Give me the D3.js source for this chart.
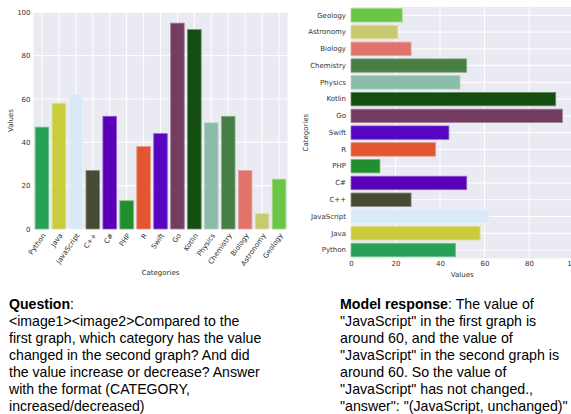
<!DOCTYPE html>
<html><head><meta charset="utf-8">
<script src="https://cdn.jsdelivr.net/npm/d3@7"></script>
<style>
body{margin:0;background:#fff;}
svg{display:block;}
</style></head>
<body>
<svg id="chart" width="571" height="414"></svg>
<script>
const categories = ["Python","Java","JavaScript","C++","C#","PHP","R","Swift","Go","Kotlin","Physics","Chemistry","Biology","Astronomy","Geology"];
const values1 = [47,58,62,27,52,13,38,44,95,92,49,52,27,7,23];
const values2 = [47,58,62,27,52,13,38,44,95,92,49,52,27,21,23];
const colors = ["#26a155","#c9cd3b","#d9eaf6","#474b36","#5a00b8","#238e2e","#e25531","#5606c1","#723d61","#134e10","#8bbcaa","#467e46","#e1736b","#c9ca70","#6bc645"];
const yTicks1 = [0,20,40,60,80,100];
const xTicks2 = [0,20,40,60,80,100];
const questionLines = [
  [["Question","bold"],[":",""]],
  [["<image1><image2>Compared to the",""]],
  [["first graph, which category has the value",""]],
  [["changed in the second graph? And did",""]],
  [["the value increase or decrease? Answer",""]],
  [["with the format (CATEGORY,",""]],
  [["increased/decreased)",""]]
];
const responseLines = [
  [["Model response","bold"],[": The value of",""]],
  [["\"JavaScript\" in the first graph is",""]],
  [["around 60, and the value of",""]],
  [["\"JavaScript\" in the second graph is",""]],
  [["around 60. So the value of",""]],
  [["\"JavaScript\" has not changed.,",""]],
  [["\"answer\": \"(JavaScript, unchanged)\"",""]]
];

const svg = d3.select("#chart");
const BG = "#eaeaf2", FONT = "DejaVu Sans", TXT = "#333";
const edge = c => d3.interpolateRgb(c, "#ffffff")(0.35);

// ---------- Chart 1 (vertical bars) ----------
{
  const L = 33.5, R = 287.5, T = 12.3, B = 229;
  const x = d3.scaleBand().domain(categories).range([L, R]).paddingInner(0.2).paddingOuter(0.1);
  const y = d3.scaleLinear().domain([0, 100]).range([B, T]);
  const g = svg.append("g");
  g.append("rect").attr("x", L).attr("y", T).attr("width", R - L).attr("height", B - T).attr("fill", BG);
  g.selectAll(".hg").data(yTicks1).join("line")
    .attr("x1", L).attr("x2", R).attr("y1", d => y(d)).attr("y2", d => y(d))
    .attr("stroke", "#fff").attr("stroke-width", 1);
  g.selectAll(".vg").data(categories).join("line")
    .attr("x1", d => x(d) + x.bandwidth() / 2).attr("x2", d => x(d) + x.bandwidth() / 2)
    .attr("y1", T).attr("y2", B).attr("stroke", "#fff").attr("stroke-width", 1);
  g.selectAll(".bar").data(categories).join("rect")
    .attr("x", d => x(d)).attr("width", x.bandwidth())
    .attr("y", (d, i) => y(values1[i])).attr("height", (d, i) => B - y(values1[i]))
    .attr("fill", (d, i) => colors[i]).attr("stroke", (d, i) => edge(colors[i])).attr("stroke-width", 0.8);
  const ya = g.append("g").attr("transform", `translate(${L},0)`)
    .call(d3.axisLeft(y).tickValues(yTicks1).tickSize(0).tickPadding(3));
  ya.select(".domain").remove();
  ya.selectAll("text").attr("font-family", FONT).attr("font-size", 7).attr("fill", TXT);
  const xa = g.append("g").attr("transform", `translate(0,${B})`)
    .call(d3.axisBottom(x).tickSize(0));
  xa.select(".domain").remove();
  xa.selectAll("text").attr("font-family", FONT).attr("font-size", 7).attr("fill", TXT)
    .attr("text-anchor", "end").attr("y", 0).attr("dy", "0.35em")
    .attr("transform", "translate(2,5) rotate(-55)");
  g.append("text").attr("x", (L + R) / 2).attr("y", 275).attr("text-anchor", "middle")
    .attr("font-family", FONT).attr("font-size", 7).attr("fill", TXT).text("Categories");
  g.append("text").attr("transform", `translate(13,${(T + B) / 2}) rotate(-90)`).attr("text-anchor", "middle")
    .attr("font-family", FONT).attr("font-size", 7).attr("fill", TXT).text("Values");
}

// ---------- Chart 2 (horizontal bars) ----------
{
  const L = 351, R = 573.5, T = 6.9, B = 258.4;
  const y = d3.scaleBand().domain(categories.slice().reverse()).range([T, B]).paddingInner(0.2).paddingOuter(0.1);
  const x = d3.scaleLinear().domain([0, 100]).range([L, R]);
  const g = svg.append("g");
  g.append("rect").attr("x", L).attr("y", T).attr("width", R - L).attr("height", B - T).attr("fill", BG);
  g.selectAll(".vg").data(xTicks2).join("line")
    .attr("x1", d => x(d)).attr("x2", d => x(d)).attr("y1", T).attr("y2", B)
    .attr("stroke", "#fff").attr("stroke-width", 1);
  g.selectAll(".hg").data(categories).join("line")
    .attr("x1", L).attr("x2", R).attr("y1", d => y(d) + y.bandwidth() / 2).attr("y2", d => y(d) + y.bandwidth() / 2)
    .attr("stroke", "#fff").attr("stroke-width", 1);
  g.selectAll(".bar").data(categories).join("rect")
    .attr("y", d => y(d)).attr("height", y.bandwidth())
    .attr("x", L).attr("width", (d, i) => x(values2[i]) - L)
    .attr("fill", (d, i) => colors[i]).attr("stroke", (d, i) => edge(colors[i])).attr("stroke-width", 0.8);
  const ya = g.append("g").attr("transform", `translate(${L},0)`)
    .call(d3.axisLeft(y).tickSize(0).tickPadding(5));
  ya.select(".domain").remove();
  ya.selectAll("text").attr("font-family", FONT).attr("font-size", 7).attr("fill", TXT);
  const xa = g.append("g").attr("transform", `translate(0,${B})`)
    .call(d3.axisBottom(x).tickValues(xTicks2).tickSize(0).tickPadding(3));
  xa.select(".domain").remove();
  xa.selectAll("text").attr("font-family", FONT).attr("font-size", 7).attr("fill", TXT);
  g.append("text").attr("x", (L + R) / 2).attr("y", 276.5).attr("text-anchor", "middle")
    .attr("font-family", FONT).attr("font-size", 7).attr("fill", TXT).text("Values");
  g.append("text").attr("transform", `translate(308,${(T + B) / 2}) rotate(-90)`).attr("text-anchor", "middle")
    .attr("font-family", FONT).attr("font-size", 7).attr("fill", TXT).text("Categories");
}

// ---------- Text blocks ----------
function block(lines, x0, y0, fs) {
  const t = svg.append("text").attr("font-family", "Liberation Sans, Arial, sans-serif")
    .attr("font-size", fs).attr("fill", "#000");
  lines.forEach((line, li) => {
    line.forEach((seg, si) => {
      const ts = t.append("tspan").text(seg[0]);
      if (si === 0) ts.attr("x", x0).attr("y", y0 + li * 16.9);
      if (seg[1] === "bold") ts.attr("font-weight", "bold");
    });
  });
}
block(questionLines, 9, 309.3, 14.1);
block(responseLines, 340, 309.3, 14.2);
</script>
</body></html>
